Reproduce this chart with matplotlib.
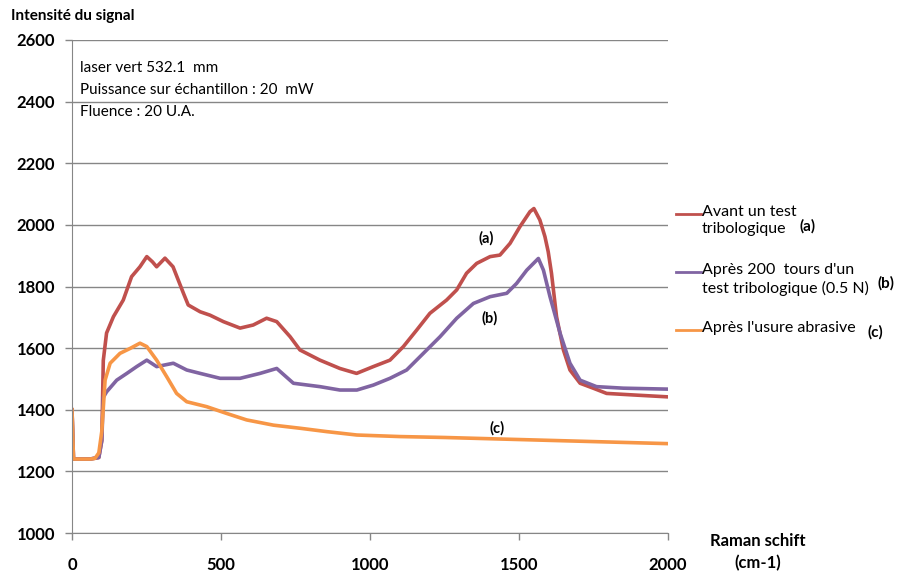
import matplotlib
matplotlib.use("Agg")
import matplotlib.pyplot as plt
from matplotlib.lines import Line2D

plt.rcParams['font.family'] = ['Lato', 'DejaVu Sans']

# Raman shift (cm-1) and signal intensity
x_a = [0, 5, 60, 90, 100, 105, 116, 139, 172, 200, 228, 251, 270, 284, 312, 339, 374, 390, 430,
       463, 508, 564, 608, 653, 687, 732, 765, 832, 899, 955, 1011, 1067, 1112, 1157, 1201,
       1257, 1291, 1324, 1358, 1403, 1436, 1470, 1503, 1537, 1550, 1570, 1587, 1598, 1609,
       1626, 1649, 1671, 1705, 1749, 1794, 1884, 1996]
y_a = [1400, 1240, 1240, 1245, 1300, 1560, 1649, 1702, 1756, 1832, 1864, 1897, 1880, 1864, 1892,
       1864, 1778, 1740, 1718, 1707, 1686, 1665, 1675, 1697, 1686, 1637, 1594, 1561, 1534,
       1518, 1540, 1561, 1605, 1659, 1713, 1756, 1789, 1843, 1875, 1897, 1902, 1940, 1994,
       2043, 2053, 2016, 1962, 1913, 1843, 1702, 1594, 1529, 1486, 1470, 1453, 1448, 1442]

x_b = [0, 5, 60, 90, 100, 105, 116, 150, 184, 217, 251, 284, 340, 385, 430, 497, 564, 631, 687,
       743, 832, 899, 956, 1011, 1067, 1123, 1179, 1235, 1291, 1347, 1403, 1459, 1492, 1526,
       1565, 1582, 1604, 1638, 1671, 1705, 1760, 1850, 1996]
y_b = [1400, 1240, 1240, 1245, 1300, 1440, 1458, 1496, 1518, 1540, 1561, 1540, 1551, 1529, 1518,
       1502, 1502, 1518, 1534, 1486, 1475, 1464, 1464, 1480, 1502, 1529, 1583, 1637, 1697,
       1745, 1767, 1778, 1810, 1853, 1891, 1853, 1767, 1648, 1551, 1496, 1475, 1470, 1467]

x_c = [0, 5, 60, 77, 90, 100, 111, 128, 161, 195, 228, 251, 284, 318, 351, 385, 452, 519, 586,
       676, 765, 855, 956, 1100, 1250, 1400, 1550, 1700, 1850, 2000]
y_c = [1400, 1240, 1240, 1242, 1260, 1330, 1496, 1551, 1583, 1599, 1616, 1605, 1561, 1507, 1453,
       1426, 1410, 1388, 1367, 1350, 1340, 1329, 1318, 1313, 1310, 1306, 1302, 1298, 1294, 1290]

series_labels = ["Avant un test\ntribologique", "Après 200  tours d'un\ntest tribologique (0.5 N)",
                 "Après l'usure abrasive"]
series_tags = ["(a)", "(b)", "(c)"]
colors = ["#C0504D", "#8064A2", "#F79646"]

x_ticks = [0, 500, 1000, 1500, 2000]
y_ticks = [1000, 1200, 1400, 1600, 1800, 2000, 2200, 2400, 2600]

fig = plt.figure(figsize=(8.99, 5.74), dpi=100)
ax = fig.add_axes([72/899, 1-533/574, (668-72)/899, (533-40)/574])

for xs, ys, c in zip([x_a, x_b, x_c], [y_a, y_b, y_c], colors):
    ax.plot(xs, ys, color=c, lw=2.6, solid_joinstyle='round')

ax.set_xlim(0, 2000)
ax.set_ylim(1000, 2600)
ax.set_xticks(x_ticks)
ax.set_yticks(y_ticks)
ax.set_xticklabels([str(v) for v in x_ticks], fontweight='bold', fontsize=12)
ax.set_yticklabels([str(v) for v in y_ticks], fontweight='bold', fontsize=12)
ax.tick_params(axis='x', direction='out', length=5, width=1, color='#868686', pad=12)
ax.tick_params(axis='y', direction='out', length=5, width=1, color='#868686', pad=7)
ax.yaxis.grid(True, color='#868686', lw=1)
ax.set_axisbelow(True)
for s in ['top', 'right']:
    ax.spines[s].set_visible(False)
ax.spines['left'].set_color('#868686')
ax.spines['bottom'].set_color('#868686')

# annotations inside plot
ax.text(27, 2509, "laser vert 532.1  mm", fontsize=11, va='center', ha='left')
ax.text(27, 2437, "Puissance sur échantillon : 20  mW", fontsize=11, va='center', ha='left')
ax.text(27, 2366, "Fluence : 20 U.A.", fontsize=11, va='center', ha='left')
ax.text(1389, 1957, "(a)", fontsize=10.5, fontweight='bold', ha='center', va='center')
ax.text(1403, 1698, "(b)", fontsize=10.5, fontweight='bold', ha='center', va='center')
ax.text(1426, 1341, "(c)", fontsize=10.5, fontweight='bold', ha='center', va='center')

# titles
fig.text(11/899, 1-16/574, "Intensité du signal", fontsize=11, fontweight='bold', ha='left', va='center')
fig.text(758/899, 1-552/574, "Raman schift\n(cm-1)", fontsize=12, fontweight='bold',
         ha='center', va='center', linespacing=1.4)

# legend (manual)
leg_y = [214, 272, 330]
tag_pos = [(800, 226), (878, 283), (868, 332)]
for ly, lab, tag, tp, c in zip(leg_y, series_labels, series_tags, tag_pos, colors):
    fig.add_artist(Line2D([676/899, 701/899], [1-ly/574, 1-ly/574], color=c, lw=2,
                          transform=fig.transFigure))
    fig.text(702/899, 1-(ly-9)/574, lab, fontsize=11.5, ha='left', va='top', linespacing=1.3)
    fig.text(tp[0]/899, 1-tp[1]/574, tag, fontsize=11, fontweight='bold', ha='left', va='center')

fig.savefig("out.png", dpi=100)
